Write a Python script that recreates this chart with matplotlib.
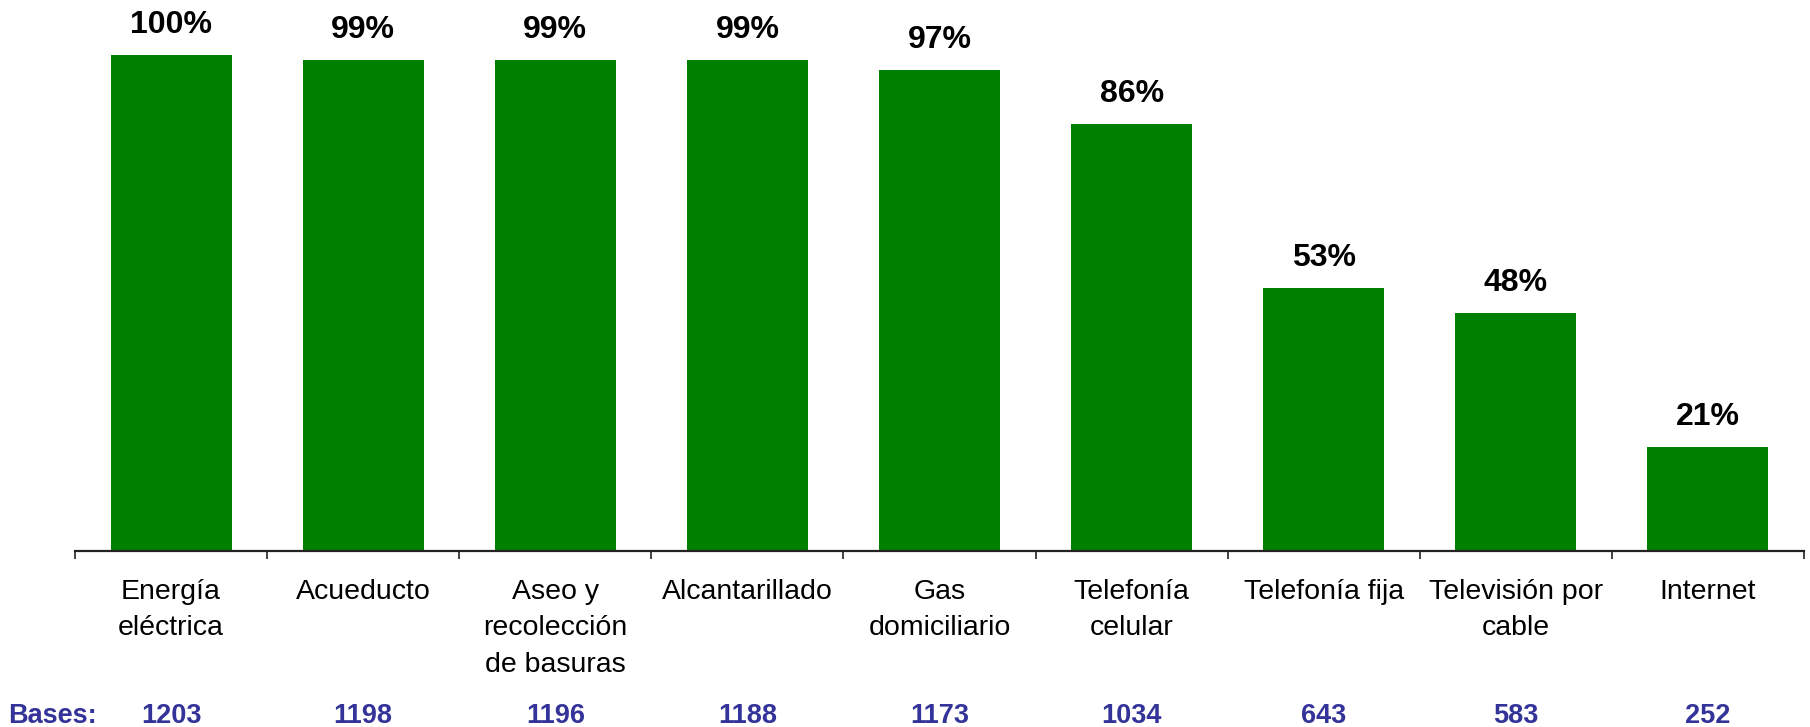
import numpy as np
import matplotlib
matplotlib.use('Agg')
import matplotlib.pyplot as plt
import matplotlib.transforms as mtransforms

plt.rcParams['font.family'] = ['Liberation Sans', 'DejaVu Sans']

# Data
servicios = ['Energía\neléctrica', 'Acueducto', 'Aseo y\nrecolección\nde basuras',
             'Alcantarillado', 'Gas\ndomiciliario', 'Telefonía\ncelular',
             'Telefonía fija', 'Televisión por\ncable', 'Internet']
porcentajes = [100, 99, 99, 99, 97, 86, 53, 48, 21]
bases = [1203, 1198, 1196, 1188, 1173, 1034, 643, 583, 252]

fig = plt.figure(figsize=(18.10, 7.27), dpi=100)
ax = fig.add_axes([75 / 1810, 1 - 551 / 727, 1729 / 1810, 496 / 727])

x = np.arange(len(servicios))
bars = ax.bar(x, porcentajes, width=0.63, color='#008000')

ax.set_xlim(-0.5, len(servicios) - 0.5)
ax.set_ylim(0, 100)

# Value labels above the bars
for xi, v in zip(x, porcentajes):
    ax.annotate(f'{v}%', xy=(xi, v), xytext=(0, 16), textcoords='offset points',
                ha='center', va='baseline', fontsize=23, fontweight='bold')

# Axes styling
for side in ['top', 'right', 'left']:
    ax.spines[side].set_visible(False)
ax.spines['bottom'].set_linewidth(1.6)
ax.spines['bottom'].set_color('#222222')
ax.set_yticks([])

ax.set_xticks(x)
ax.set_xticklabels(servicios, fontsize=20.5, linespacing=1.52)
ax.tick_params(axis='x', which='major', length=0, pad=20)
ax.set_xticks(np.arange(len(servicios) + 1) - 0.5, minor=True)
ax.tick_params(axis='x', which='minor', length=6, width=1.2, color='#222222')

# Bases row
trans = mtransforms.blended_transform_factory(ax.transData, fig.transFigure)
yb = 1 - 716 / 727
for xi, b in zip(x, bases):
    ax.text(xi, yb, str(b), transform=trans, ha='center', va='center',
            fontsize=19.5, fontweight='bold', color='#333399')
fig.text(52 / 1810, yb, 'Bases:', ha='center', va='center',
         fontsize=19.5, fontweight='bold', color='#333399')

plt.savefig('out.png', dpi=100)
